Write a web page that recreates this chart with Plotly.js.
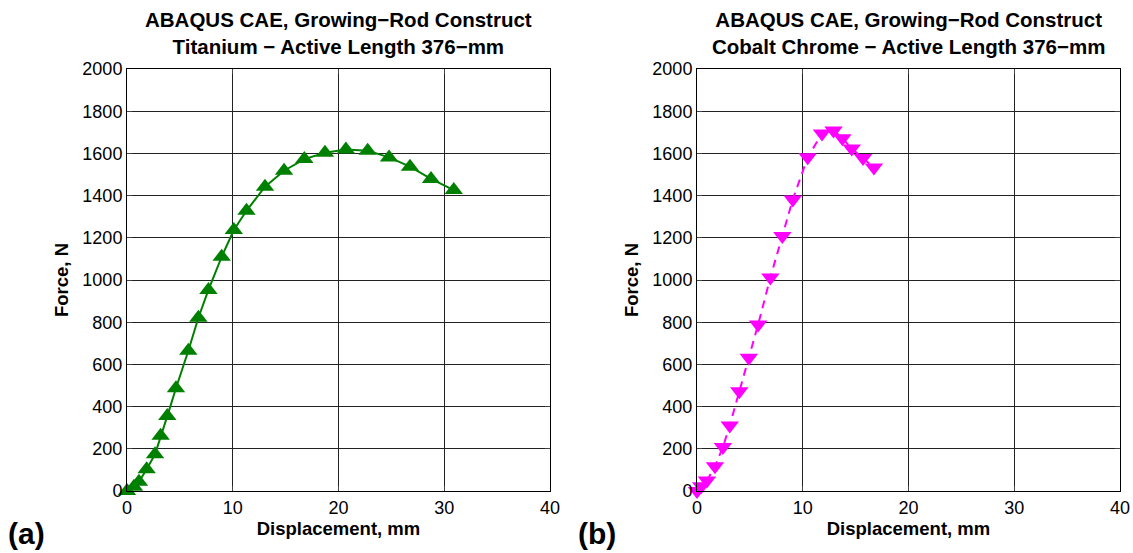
<!DOCTYPE html>
<html><head><meta charset="utf-8">
<script src="https://cdn.plot.ly/plotly-3.0.1.min.js"></script>
<style>html,body{margin:0;padding:0;background:#fff}#plot{width:1133px;height:553px}</style>
</head><body><div id="plot"></div>
<script>
const tiDisp = [0, 0.66, 1.13, 1.86, 2.65, 3.18, 3.81, 4.63, 5.8, 6.75, 7.7, 8.95, 10.1, 11.3, 13.05, 14.85, 16.77, 18.72, 20.7, 22.76, 24.78, 26.76, 28.75, 30.9];
const tiForce = [0, 20, 44, 103, 174, 262, 355, 487, 665, 821, 953, 1110, 1237, 1328, 1442, 1518, 1573, 1603, 1618, 1613, 1581, 1537, 1479, 1426];
const ccDisp = [0, 0.4, 0.94, 1.7, 2.45, 3.1, 4.0, 4.9, 5.78, 6.94, 8.07, 9.06, 10.47, 11.82, 12.91, 13.75, 14.63, 15.7, 16.73];
const ccForce = [0, 22, 50, 117, 208, 311, 473, 631, 789, 1012, 1209, 1382, 1582, 1694, 1709, 1672, 1623, 1578, 1533];
const xTicks = [0, 10, 20, 30, 40];
const yTicks = [0, 200, 400, 600, 800, 1000, 1200, 1400, 1600, 1800, 2000];

const W = 1133, H = 553;
const font = 'Liberation Sans, Arial, sans-serif';
const traces = [
  {x: tiDisp, y: tiForce, xaxis: 'x', yaxis: 'y', type: 'scatter', mode: 'lines+markers',
   line: {color: '#008000', width: 2}, marker: {symbol: 'triangle-up', size: 16, color: '#008000'}, cliponaxis: false},
  {x: ccDisp, y: ccForce, xaxis: 'x2', yaxis: 'y2', type: 'scatter', mode: 'lines+markers',
   line: {color: '#FF00FF', width: 2, dash: '8px,6px'}, marker: {symbol: 'triangle-down', size: 16, color: '#FF00FF'}, cliponaxis: false}
];
function xa(dom, anchor) {
  return {domain: dom, anchor: anchor, range: [0, 40], tickvals: xTicks, ticks: 'inside', ticklen: 5,
    showline: true, mirror: 'ticks', linecolor: '#000', linewidth: 1, showgrid: true, gridcolor: '#222', gridwidth: 1,
    zeroline: false, tickfont: {family: font, size: 18, color: '#000'},
    title: {text: '<b>Displacement, mm</b>', font: {family: font, size: 18.5, color: '#000'}, standoff: 3}};
}
function ya(dom, anchor) {
  return {domain: dom, anchor: anchor, range: [0, 2000], tickvals: yTicks, ticks: 'inside', ticklen: 5,
    showline: true, mirror: 'ticks', linecolor: '#000', linewidth: 1, showgrid: true, gridcolor: '#222', gridwidth: 1,
    zeroline: false, tickfont: {family: font, size: 18, color: '#000'},
    title: {text: '<b>Force, N</b>', font: {family: font, size: 18.5, color: '#000'}, standoff: 8}};
}
const yd = [(H - 491) / H, (H - 69) / H];
const layout = {
  width: W, height: H, margin: {l: 0, r: 0, t: 0, b: 0}, showlegend: false,
  paper_bgcolor: '#fff', plot_bgcolor: '#fff',
  xaxis: xa([127 / W, 550 / W], 'y'), yaxis: ya(yd, 'x'),
  xaxis2: xa([697 / W, 1120 / W], 'y2'), yaxis2: ya(yd, 'x2'),
  annotations: [
    {text: '<b>ABAQUS CAE, Growing\u2212Rod Construct<br>Titanium \u2212 Active Length 376\u2212mm</b>', xref: 'paper', yref: 'paper',
     x: 338.5 / W, y: (H - 33) / H, xanchor: 'center', yanchor: 'middle', showarrow: false, align: 'center',
     font: {family: font, size: 20.5, color: '#000'}},
    {text: '<b>ABAQUS CAE, Growing\u2212Rod Construct<br>Cobalt Chrome \u2212 Active Length 376\u2212mm</b>', xref: 'paper', yref: 'paper',
     x: 908.5 / W, y: (H - 33) / H, xanchor: 'center', yanchor: 'middle', showarrow: false, align: 'center',
     font: {family: font, size: 20.5, color: '#000'}},
    {text: '<b>(a)</b>', xref: 'paper', yref: 'paper', x: 6 / W, y: (H - 533) / H, xanchor: 'left', yanchor: 'middle',
     showarrow: false, font: {family: font, size: 30, color: '#000'}},
    {text: '<b>(b)</b>', xref: 'paper', yref: 'paper', x: 576 / W, y: (H - 533) / H, xanchor: 'left', yanchor: 'middle',
     showarrow: false, font: {family: font, size: 30, color: '#000'}}
  ]
};
Plotly.newPlot('plot', traces, layout, {staticPlot: true, displayModeBar: false});
</script></body></html>
